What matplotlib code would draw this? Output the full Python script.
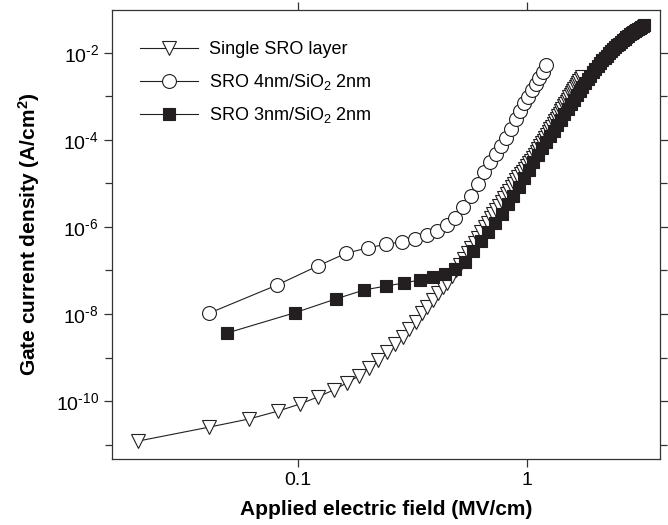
#!/usr/bin/env python3
"""Gate current density vs applied field for the three SRO stacks."""

import matplotlib
matplotlib.use("Agg")
import matplotlib.pyplot as plt
from matplotlib.ticker import FixedLocator, NullFormatter, NullLocator


# Single SRO layer (open down-triangles)
single_field = [
    0.020, 0.041, 0.061, 0.082, 0.102, 0.122, 0.143, 0.163, 0.184, 0.204,
    0.224, 0.245, 0.265, 0.286, 0.306, 0.326, 0.347, 0.367, 0.388, 0.408,
    0.428, 0.449, 0.469, 0.490, 0.510, 0.530, 0.551, 0.571, 0.592, 0.612,
    0.632, 0.653, 0.673, 0.694, 0.714, 0.734, 0.755, 0.775, 0.796, 0.816,
    0.836, 0.857, 0.877, 0.898, 0.918, 0.938, 0.959, 0.979, 1.000, 1.020,
    1.040, 1.061, 1.081, 1.102, 1.122, 1.142, 1.163, 1.183, 1.204, 1.224,
    1.244, 1.265, 1.285, 1.306, 1.326, 1.346, 1.367, 1.387, 1.408, 1.428,
    1.448, 1.469, 1.489, 1.510, 1.530, 1.550, 1.571, 1.591, 1.612, 1.632,
    1.652, 1.673, 1.693, 1.714, 1.734,
]
single_j = [
    1.20e-11, 2.52e-11, 3.86e-11, 5.89e-11, 8.53e-11, 1.24e-10, 1.79e-10, 2.59e-10, 3.76e-10, 5.74e-10,
    8.77e-10, 1.34e-9, 2.04e-9, 2.96e-9, 4.52e-9, 6.55e-9, 1.05e-8, 1.45e-8, 2.10e-8, 3.04e-8,
    4.18e-8, 5.16e-8, 7.28e-8, 1.00e-7, 1.37e-7, 1.85e-7, 2.47e-7, 3.29e-7, 4.33e-7, 5.70e-7,
    7.59e-7, 9.95e-7, 1.25e-6, 1.57e-6, 1.96e-6, 2.46e-6, 3.04e-6, 3.76e-6, 4.65e-6, 5.65e-6,
    6.82e-6, 8.22e-6, 9.84e-6, 1.17e-5, 1.38e-5, 1.61e-5, 1.86e-5, 2.15e-5, 2.48e-5, 2.88e-5,
    3.34e-5, 3.92e-5, 4.57e-5, 5.27e-5, 6.08e-5, 7.13e-5, 8.32e-5, 9.64e-5, 1.11e-4, 1.30e-4,
    1.50e-4, 1.76e-4, 2.02e-4, 2.34e-4, 2.69e-4, 3.10e-4, 3.56e-4, 4.03e-4, 4.61e-4, 5.25e-4,
    5.96e-4, 6.68e-4, 7.55e-4, 8.39e-4, 9.48e-4, 1.06e-3, 1.18e-3, 1.32e-3, 1.47e-3, 1.64e-3,
    1.81e-3, 2.02e-3, 2.25e-3, 2.50e-3, 2.74e-3,
]

# SRO 4nm / SiO2 2nm (open circles)
sro4_field = [
    0.041, 0.081, 0.122, 0.162, 0.203, 0.243, 0.284, 0.324, 0.365, 0.405,
    0.446, 0.486, 0.527, 0.567, 0.608, 0.648, 0.689, 0.729, 0.770, 0.810,
    0.851, 0.891, 0.932, 0.972, 1.013, 1.053, 1.094, 1.134, 1.175, 1.215,
]
sro4_j = [
    1.05e-8, 4.64e-8, 1.27e-7, 2.48e-7, 3.34e-7, 4.00e-7, 4.59e-7, 5.21e-7, 6.55e-7, 8.22e-7,
    1.11e-6, 1.65e-6, 2.93e-6, 5.16e-6, 9.60e-6, 1.81e-5, 3.14e-5, 4.86e-5, 7.31e-5, 1.08e-4,
    1.79e-4, 3.01e-4, 4.57e-4, 6.93e-4, 9.79e-4, 1.40e-3, 1.94e-3, 2.65e-3, 3.64e-3, 5.21e-3,
]

# SRO 3nm / SiO2 2nm (filled squares)
sro3_field = [
    0.049, 0.097, 0.146, 0.194, 0.243, 0.291, 0.340, 0.388, 0.437, 0.485,
    0.534, 0.582, 0.631, 0.679, 0.728, 0.776, 0.825, 0.873, 0.922, 0.970,
    1.019, 1.067, 1.116, 1.164, 1.213, 1.261, 1.310, 1.358, 1.407, 1.455,
    1.504, 1.552, 1.601, 1.649, 1.698, 1.746, 1.795, 1.843, 1.892, 1.940,
    1.989, 2.037, 2.086, 2.134, 2.183, 2.231, 2.280, 2.328, 2.377, 2.425,
    2.474, 2.522, 2.571, 2.619, 2.668, 2.716, 2.765, 2.813, 2.862, 2.910,
    2.959, 3.007, 3.056, 3.104, 3.153, 3.201, 3.250,
]
sro3_j = [
    3.66e-9, 1.07e-8, 2.21e-8, 3.56e-8, 4.41e-8, 5.16e-8, 6.05e-8, 7.09e-8, 8.31e-8, 1.08e-7,
    1.57e-7, 2.81e-7, 4.76e-7, 7.67e-7, 1.26e-6, 1.99e-6, 3.33e-6, 5.16e-6, 8.18e-6, 1.32e-5,
    2.01e-5, 3.12e-5, 4.52e-5, 6.52e-5, 9.03e-5, 1.22e-4, 1.64e-4, 2.19e-4, 2.94e-4, 3.94e-4,
    5.13e-4, 6.65e-4, 8.49e-4, 1.08e-3, 1.35e-3, 1.66e-3, 2.03e-3, 2.48e-3, 2.99e-3, 3.56e-3,
    4.22e-3, 5.00e-3, 5.92e-3, 6.76e-3, 7.67e-3, 8.71e-3, 9.79e-3, 1.11e-2, 1.23e-2, 1.36e-2,
    1.49e-2, 1.64e-2, 1.80e-2, 1.96e-2, 2.12e-2, 2.30e-2, 2.48e-2, 2.68e-2, 2.88e-2, 3.09e-2,
    3.27e-2, 3.44e-2, 3.60e-2, 3.76e-2, 3.94e-2, 4.11e-2, 4.31e-2,
]

series_labels = ["Single SRO layer", "SRO 4nm/SiO$_2$ 2nm", "SRO 3nm/SiO$_2$ 2nm"]
x_ticks = [0.1, 1]
x_tick_labels = ["0.1", "1"]
y_major = [1e-10, 1e-8, 1e-6, 1e-4, 1e-2]
y_major_labels = [r"10$^{\text{-}10}$", r"10$^{\text{-}8}$", r"10$^{\text{-}6}$",
                  r"10$^{\text{-}4}$", r"10$^{\text{-}2}$"]
y_minor = [1e-11, 1e-9, 1e-7, 1e-5, 1e-3]


def main() -> None:
    plt.rcParams["font.family"] = ["Liberation Sans", "DejaVu Sans"]
    plt.rcParams["mathtext.fontset"] = "custom"
    plt.rcParams["mathtext.rm"] = "Liberation Sans"
    plt.rcParams["mathtext.it"] = "Liberation Sans:italic"
    plt.rcParams["mathtext.bf"] = "Liberation Sans:bold"
    plt.rcParams["mathtext.default"] = "regular"

    fig = plt.figure(figsize=(6.68, 5.25), dpi=100)
    ax = fig.add_axes([0.1677, 0.1257, 0.8203, 0.8553])
    ink = "#231f20"

    ax.plot(single_field, single_j, "-", color=ink, lw=0.8, marker="v", ms=10.5,
            mfc="white", mec=ink, mew=0.8, label=series_labels[0])
    ax.plot(sro4_field, sro4_j, "-", color=ink, lw=0.8, marker="o", ms=10,
            mfc="white", mec=ink, mew=0.8, label=series_labels[1])
    ax.plot(sro3_field, sro3_j, "-", color=ink, lw=0.8, marker="s", ms=9,
            mfc=ink, mec=ink, mew=0.8, label=series_labels[2])

    ax.set_xscale("log")
    ax.set_yscale("log")
    ax.set_xlim(0.0154, 3.81)
    ax.set_ylim(4.65e-12, 0.097)

    ax.xaxis.set_major_locator(FixedLocator(x_ticks))
    ax.set_xticklabels(x_tick_labels)
    ax.xaxis.set_minor_locator(NullLocator())
    ax.yaxis.set_major_locator(FixedLocator(y_major))
    ax.set_yticklabels(y_major_labels)
    ax.yaxis.set_minor_locator(FixedLocator(y_minor))
    ax.yaxis.set_minor_formatter(NullFormatter())

    ax.tick_params(which="both", direction="out", top=True, right=True,
                   width=0.9, color="#333333", labelsize=14)
    ax.tick_params(which="major", length=6)
    ax.tick_params(which="minor", length=5)
    for spine in ax.spines.values():
        spine.set_linewidth(0.9)
        spine.set_color("#333333")

    ax.set_xlabel("Applied electric field (MV/cm)", fontsize=15, fontweight="bold", labelpad=8)
    ax.set_ylabel("Gate current density (A/cm$^2$)", fontsize=15, fontweight="bold", labelpad=10)

    ax.legend(loc="upper left", bbox_to_anchor=(0.051, 0.93), frameon=False,
              fontsize=13, handlelength=3.2, handletextpad=0.65, labelspacing=0.75,
              borderpad=0, borderaxespad=0)

    fig.savefig("out.png", dpi=100)
    plt.close(fig)


if __name__ == "__main__":
    main()
